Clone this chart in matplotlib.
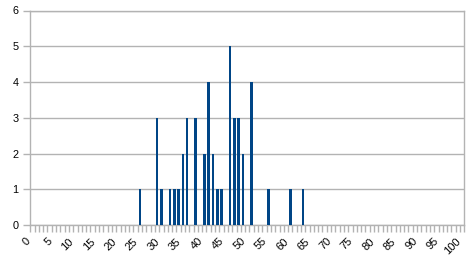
import matplotlib
matplotlib.use("Agg")
import matplotlib.pyplot as plt
import matplotlib.transforms as mtransforms
import numpy as np

categories = list(range(0, 101))
bar_positions = [25, 29, 30, 32, 33, 34, 35, 36, 38, 40, 41, 42, 43, 44, 46, 47, 48, 49, 51, 55, 60, 63]
bar_counts =    [1,  3,  1,  1,  1,  1,  2,  3,  3,  2,  4,  2,  1,  1,  5,  3,  3,  2,  4,  1,  1,  1]
y_ticks = [0, 1, 2, 3, 4, 5, 6]
x_labels = [str(c) for c in categories[::5]]

counts = np.zeros(len(categories))
for p, v in zip(bar_positions, bar_counts):
    counts[categories.index(p)] = v

plt.rcParams['font.family'] = ['Liberation Sans', 'DejaVu Sans']
fig = plt.figure(figsize=(4.73, 2.68), dpi=100)
ax = fig.add_axes([30.3/473, 43/268, (464.3-30.3)/473, (225-10.5)/268])

grid_c = '#b3b3b3'
x = np.arange(len(categories))
ax.bar(x, counts, width=0.6, color='#004586', zorder=3)

ax.set_xlim(-0.5, len(categories) - 0.5)
ax.set_ylim(0, 6)
ax.set_yticks(y_ticks)
ax.yaxis.grid(True, color=grid_c, linewidth=1)
ax.set_axisbelow(True)

ax.set_xticks(x[::5])
ax.set_xticklabels(x_labels, rotation=45, ha='right', va='top', fontsize=8)
offset = mtransforms.ScaledTranslation(2.5/100, 0, fig.dpi_scale_trans)
for lab in ax.get_xticklabels():
    lab.set_transform(lab.get_transform() + offset)
ax.set_xticks(np.arange(-0.5, len(categories)), minor=True)
ax.tick_params(axis='x', which='major', length=0, pad=8)
ax.tick_params(axis='x', which='minor', length=5, color=grid_c, width=1)
ax.tick_params(axis='y', length=5, color=grid_c, width=1, labelsize=7.8, pad=3.5)

for s in ax.spines.values():
    s.set_color(grid_c)
    s.set_linewidth(1)

fig.savefig('out.png', dpi=100)
